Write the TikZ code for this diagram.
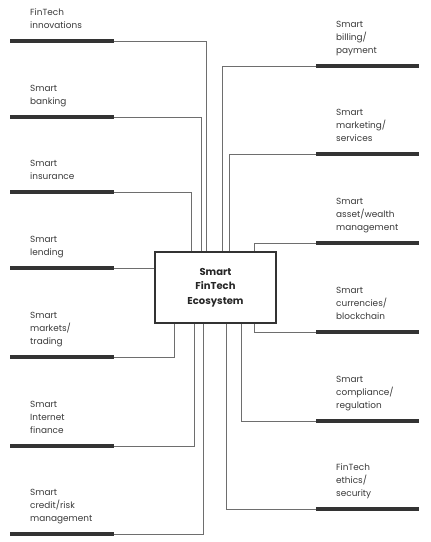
\documentclass[tikz,border=0pt]{standalone}
\usepackage{fontspec}
\setmainfont{Poppins}
\definecolor{bardark}{HTML}{333333}
\definecolor{linegray}{HTML}{6E6E6E}
\definecolor{txt}{HTML}{383838}
\begin{document}
\begin{tikzpicture}[x=1pt,y=1pt,
  bar/.style={line width=3.4pt,draw=bardark},
  conn/.style={line width=0.9pt,draw=linegray},
  lbl/.style={anchor=south west,inner sep=0pt,align=left,text=txt,
    font=\fontsize{8.9}{13}\selectfont},
  hub/.style={draw=bardark,line width=1.3pt,minimum width=121pt,minimum height=71pt,
    align=center,font=\fontsize{10}{14.5}\selectfont\bfseries,text=black!85}]
\useasboundingbox (0,0) rectangle (431,542);
% central box
\node[hub] (box) at (215.5,254.5) {Smart\\FinTech\\Ecosystem};
% left bars
\foreach \n/\y in {1/501,2/425,3/350,4/274,5/185,6/96,7/8}{
  \coordinate (Ls\n) at (10,\y);
  \coordinate (Le\n) at (114,\y);
  \draw[bar] (Ls\n) -- (Le\n);
}
% right bars
\foreach \n/\y in {1/476,2/388,3/299,4/210,5/121,6/33}{
  \coordinate (Rs\n) at (316,\y);
  \coordinate (Re\n) at (419,\y);
  \draw[bar] (Rs\n) -- (Re\n);
}
% left labels
\node[lbl] (l1) at (30,509.5) {FinTech\\innovations\strut};
\node[lbl] (l2) at (30,433.5) {Smart\\banking\strut};
\node[lbl] (l3) at (30,358.5) {Smart\\insurance\strut};
\node[lbl] (l4) at (30,282.5) {Smart\\lending\strut};
\node[lbl] (l5) at (30,193.5) {Smart\\markets/\\trading\strut};
\node[lbl] (l6) at (30,104.5) {Smart\\Internet\\finance\strut};
\node[lbl] (l7) at (30,16.5) {Smart\\credit/risk\\management\strut};
% right labels
\node[lbl] (r1) at (336,484.5) {Smart\\billing/\\payment\strut};
\node[lbl] (r2) at (336,396.5) {Smart\\marketing/\\services\strut};
\node[lbl] (r3) at (336,307.5) {Smart\\asset/wealth\\management\strut};
\node[lbl] (r4) at (336,218.5) {Smart\\currencies/\\blockchain\strut};
\node[lbl] (r5) at (336,129.5) {Smart\\compliance/\\regulation\strut};
\node[lbl] (r6) at (336,41.5) {FinTech\\ethics/\\security\strut};
% connectors left
\draw[conn] (Le1) -| ([xshift=52pt]box.north west);
\draw[conn] (Le2) -| ([xshift=47.5pt]box.north west);
\draw[conn] (Le3) -| ([xshift=37.5pt]box.north west);
\draw[conn] (Le4) -- (Le4 -| box.west);
\draw[conn] (Le5) -| ([xshift=20.5pt]box.south west);
\draw[conn] (Le6) -| ([xshift=40.5pt]box.south west);
\draw[conn] (Le7) -| ([xshift=49.5pt]box.south west);
% connectors right
\draw[conn] (Rs1) -| ([xshift=68pt]box.north west);
\draw[conn] (Rs2) -| ([xshift=75pt]box.north west);
\draw[conn] (Rs3) -| ([xshift=100.5pt]box.north west);
\draw[conn] (Rs4) -| ([xshift=100.5pt]box.south west);
\draw[conn] (Rs5) -| ([xshift=87pt]box.south west);
\draw[conn] (Rs6) -| ([xshift=72.3pt]box.south west);
\end{tikzpicture}
\end{document}
